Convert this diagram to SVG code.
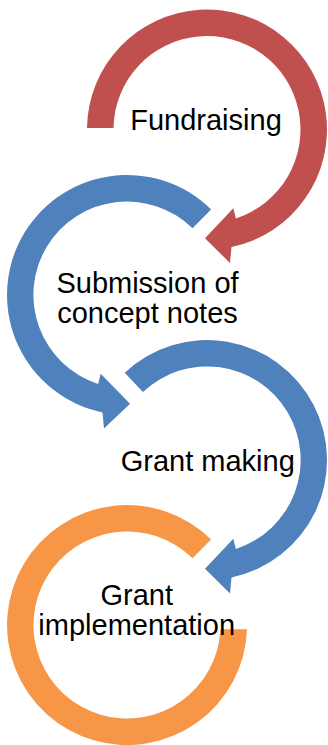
<svg xmlns="http://www.w3.org/2000/svg" width="328" height="745" viewBox="0 0 328 745">
<style>
.lbl{font-family:"Liberation Sans",Arial,sans-serif;font-size:29px;fill:#000;text-anchor:middle}
.red{fill:#C0504D}
.blue{fill:#4F81BD}
.orange{fill:#F79646}
</style>
<rect width="328" height="745" fill="#fff"/>
<g id="connectors"></g>
<g id="node-fundraising">
<path class="red" d="M87,128 A120,120 0 1 1 231.5,247 L230,263 L205,238.3 L233.3,208.3 L235.9,218.4 A93.5,93.5 0 1 0 113.5,128 Z"/>
<text class="lbl" x="206" y="130">Fundraising</text>
</g>
<g id="node-submission">
<path class="blue" d="M211.1,209.4 A120,120 0 1 0 102.5,412.5 L104,428.5 L130,403.8 L100.7,373.8 L98.1,383.9 A93.5,93.5 0 1 1 192.5,228.3 Z"/>
<text class="lbl" x="147.5" y="293.3">Submission of</text>
<text class="lbl" x="147.5" y="323.3">concept notes</text>
</g>
<g id="node-grant-making">
<path class="blue" d="M124.7,372.7 A120,120 0 1 1 231.5,577.5 L230,593.5 L205,568.8 L233.3,538.8 L235.9,548.9 A93.5,93.5 0 1 0 142.9,392 Z"/>
<text class="lbl" x="207.8" y="471">Grant making</text>
</g>
<g id="node-grant-implementation">
<path class="orange" d="M247,629.3 A120,120 0 1 1 211.1,539.4 L192.5,558.3 A93.5,93.5 0 1 0 220.4,629.3 Z"/>
<text class="lbl" x="136.7" y="605">Grant</text>
<text class="lbl" x="136.7" y="635">implementation</text>
</g>
</svg>
